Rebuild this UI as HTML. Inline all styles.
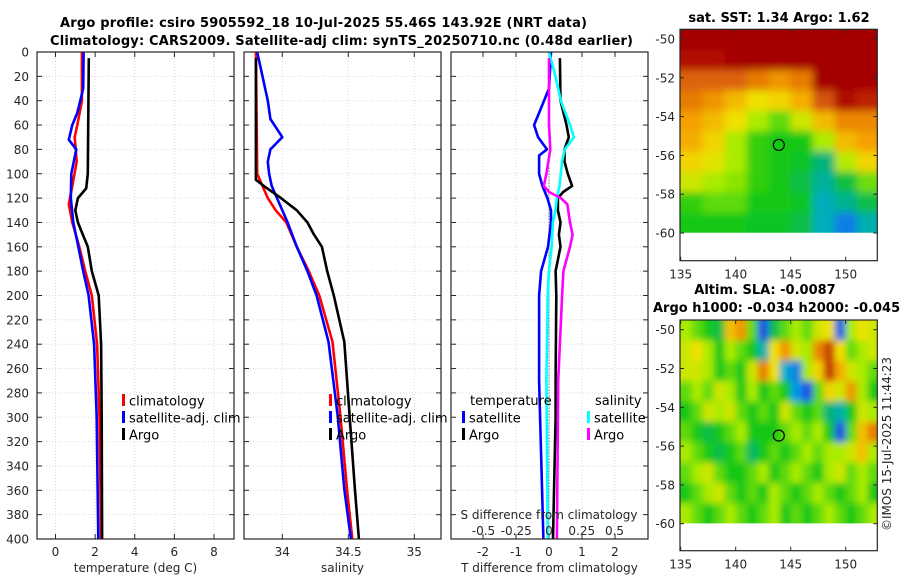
<!DOCTYPE html>
<html><head><meta charset="utf-8"><title>Argo profile</title>
<style>
html,body{margin:0;padding:0;background:#fff;}
svg{display:block;font-family:"DejaVu Sans","Liberation Sans",sans-serif;}
.tk{font-size:12px;fill:#262626;}
.lg{font-size:13px;fill:#000;}
.tt{font-size:13px;font-weight:bold;fill:#000;}
</style></head>
<body>
<svg id="fig" width="900" height="580" viewBox="0 0 900 580" xmlns="http://www.w3.org/2000/svg">
<defs>
<filter id="blurSST" x="-10%" y="-10%" width="120%" height="120%"><feGaussianBlur stdDeviation="4"/></filter>
<filter id="blurSLA" x="-10%" y="-10%" width="120%" height="120%"><feGaussianBlur stdDeviation="3.5"/></filter>
<clipPath id="clipSST"><rect x="680" y="29.3" width="197.3" height="203.4"/></clipPath>
<clipPath id="clipSLA"><rect x="680" y="320" width="197.3" height="203.4"/></clipPath>
</defs>
<text class="tt" x="60" y="27" textLength="527">Argo profile: csiro 5905592_18 10-Jul-2025 55.46S 143.92E (NRT data)</text>
<text class="tt" x="50" y="45" textLength="583">Climatology: CARS2009. Satellite-adj clim: synTS_20250710.nc (0.48d earlier)</text>
<text class="tt" x="779" y="22" text-anchor="middle">sat. SST: 1.34 Argo: 1.62</text>
<text class="tt" x="765" y="294" text-anchor="middle">Altim. SLA: -0.0087</text>
<text class="tt" x="653" y="312">Argo h1000: -0.034 h2000: -0.045</text>
<text class="tk" transform="translate(891,444) rotate(-90)" text-anchor="middle" font-size="13">©IMOS 15-Jul-2025 11:44:23</text>
</svg>
<script>
// ---------- data ----------
const depthTicks = [0,20,40,60,80,100,120,140,160,180,200,220,240,260,280,300,320,340,360,380,400];
const tempTicks = [0,2,4,6,8];
const salTicks = [34,34.5,35];
const salTickLabels = ["34","34.5","35"];
const tdiffTicks = [-2,-1,0,1,2];
const sdiffTicks = [-0.5,-0.25,0,0.25,0.5];
const sdiffTickLabels = ["-0.5","-0.25","0","0.25","0.5"];

const climTDepth = [0,40,60,70,90,110,125,140,160,180,200,240,300,400];
const climT = [1.33,1.33,1.1,0.97,1.07,0.85,0.67,0.85,1.2,1.5,1.83,2.1,2.22,2.3];
const satTDepth = [0,30,50,60,72,80,100,120,140,160,180,200,240,300,400];
const satT = [1.42,1.4,1.1,0.85,0.67,1.05,0.8,0.77,0.9,1.15,1.4,1.67,1.95,2.08,2.16];
const argoTDepth = [5,100,112,120,130,140,150,160,180,200,240,300,400];
const argoT = [1.68,1.63,1.55,1.13,1.0,1.13,1.38,1.63,1.83,2.18,2.3,2.33,2.35];

const climSDepth = [0,100,110,120,130,140,160,180,200,238,299,359,400];
const climS = [33.8,33.81,33.85,33.89,33.95,34.03,34.11,34.2,34.28,34.38,34.44,34.49,34.53];
const satSDepth = [0,20,40,55,70,80,90,100,110,120,140,160,180,200,238,299,359,400];
const satS = [33.81,33.85,33.89,33.91,34.0,33.91,33.89,33.9,33.92,33.96,34.04,34.11,34.19,34.26,34.35,34.42,34.47,34.52];
const argoSDepth = [5,105,110,120,130,140,150,160,180,200,238,299,359,400];
const argoS = [33.8,33.8,33.86,33.99,34.11,34.19,34.24,34.3,34.34,34.39,34.47,34.51,34.55,34.58];

const argoDTDepth = [5,40,60,70,80,90,100,110,115,120,130,140,150,160,180,200,270,300,400];
const argoDT = [0.33,0.35,0.53,0.6,0.47,0.47,0.57,0.7,0.43,0.27,0.27,0.35,0.3,0.35,0.2,0.22,0.2,0.2,0.12];
const satDTDepth = [0,30,50,60,70,80,85,100,110,120,130,140,160,180,200,270,400];
const satDT = [0.06,0.0,-0.3,-0.45,-0.33,-0.06,-0.3,-0.3,-0.2,-0.05,0.06,0.06,-0.03,-0.24,-0.3,-0.3,-0.17];
const satDSDepth = [0,20,40,60,70,80,90,100,110,120,130,140,160,180,200,270,400];
const satDS = [0,0.05,0.09,0.16,0.19,0.12,0.1,0.09,0.08,0.06,0.05,0.03,0.02,0,-0.01,-0.02,-0.01];
const argoDSDepth = [5,60,80,100,110,115,120,125,140,150,160,180,200,270,400];
const argoDS = [0,0,0.01,-0.02,-0.04,0.0,0.09,0.14,0.16,0.18,0.16,0.11,0.1,0.07,0.06];

const lonTicks = [135,140,145,150];
const latTicks = [-50,-52,-54,-56,-58,-60];
const argoLon = 143.92, argoLat = -55.46;
// SST grid: 10 rows (lat -49.5..-60), 9 cols (2 deg lon)
const sstGrid = [
[1,1,1,1,1,1,1,1,1],
[0.92,0.92,1,1,1,1,1,1,1],
[0.8,0.8,0.8,0.76,0.72,0.76,1,1,1],
[0.76,0.72,0.66,0.6,0.62,0.68,0.82,0.95,0.88],
[0.7,0.66,0.6,0.5,0.45,0.55,0.66,0.74,0.74],
[0.68,0.62,0.5,0.42,0.4,0.4,0.5,0.66,0.7],
[0.62,0.58,0.5,0.42,0.4,0.38,0.3,0.52,0.62],
[0.55,0.5,0.48,0.42,0.4,0.35,0.27,0.36,0.46],
[0.42,0.45,0.45,0.4,0.4,0.38,0.24,0.28,0.35],
[0.4,0.4,0.4,0.38,0.38,0.35,0.24,0.15,0.25]];
// SLA grid: 10 rows, 18 cols (1 deg lon)
const slaGrid = [
[0.5,0.45,0.4,0.35,0.65,0.72,0.45,0.1,0.35,0.45,0.5,0.45,0.55,0.6,0.12,0.5,0.6,0.55],
[0.55,0.6,0.5,0.4,0.5,0.45,0.4,0.25,0.6,0.72,0.55,0.5,0.74,0.85,0.6,0.45,0.5,0.55],
[0.55,0.55,0.5,0.4,0.45,0.4,0.55,0.76,0.6,0.22,0.15,0.5,0.62,0.86,0.68,0.55,0.5,0.45],
[0.45,0.5,0.45,0.55,0.5,0.4,0.5,0.4,0.45,0.4,0.18,0.1,0.45,0.62,0.55,0.72,0.5,0.4],
[0.4,0.45,0.55,0.5,0.55,0.45,0.4,0.45,0.4,0.55,0.45,0.4,0.45,0.3,0.25,0.4,0.55,0.5],
[0.45,0.4,0.35,0.4,0.45,0.5,0.4,0.4,0.4,0.45,0.5,0.45,0.5,0.4,0.1,0.45,0.65,0.76],
[0.5,0.45,0.4,0.35,0.4,0.45,0.32,0.4,0.45,0.4,0.45,0.5,0.45,0.5,0.5,0.55,0.65,0.5],
[0.45,0.5,0.55,0.45,0.4,0.4,0.45,0.5,0.4,0.45,0.5,0.45,0.4,0.5,0.55,0.45,0.5,0.45],
[0.4,0.45,0.5,0.55,0.45,0.4,0.45,0.4,0.5,0.45,0.4,0.45,0.5,0.45,0.4,0.45,0.5,0.4],
[0.5,0.45,0.4,0.45,0.5,0.45,0.4,0.45,0.5,0.4,0.45,0.4,0.45,0.5,0.45,0.4,0.45,0.5]];

// ---------- helpers ----------
const NS = "http://www.w3.org/2000/svg";
const svg = document.getElementById("fig");
function mk(tag, attrs, parent){
  const e = document.createElementNS(NS, tag);
  for (const k in attrs) e.setAttribute(k, attrs[k]);
  (parent||svg).appendChild(e);
  return e;
}
const Y0 = 52, Y1 = 539;
function yD(d){ return Y0 + d*(Y1-Y0)/400; }
function linScale(v0,p0,v1,p1){ return v => p0 + (v-v0)*(p1-p0)/(v1-v0); }

const panels = [
 {name:"temperature-panel", x0:37, x1:234, sx:linScale(0,55.5,8,214), ticks:tempTicks, labels:tempTicks.map(String), xlabel:"temperature (deg C)", showY:true},
 {name:"salinity-panel", x0:244, x1:441, sx:linScale(34,282.3,35,414.3), ticks:salTicks, labels:salTickLabels, xlabel:"salinity", showY:false},
 {name:"difference-panel", x0:451, x1:648, sx:linScale(0,549,1,582), ticks:tdiffTicks, labels:tdiffTicks.map(String), xlabel:"T difference from climatology", showY:false}
];

panels.forEach(p=>{
  const g = mk("g",{});
  
  
  p.ticks.forEach(t=>{
    const l = mk("line",{x1:p.sx(t),x2:p.sx(t),y1:Y0,y2:Y1,stroke:"#d2d8f0","stroke-width":1,"stroke-dasharray":"1,2"},g);
    
    
  });
  depthTicks.forEach(d=>{
    const l = mk("line",{x1:p.x0,x2:p.x1,y1:yD(d),y2:yD(d),stroke:"#d2d8f0","stroke-width":1,"stroke-dasharray":"1,2"},g);
    
    
  });
  depthTicks.forEach(d=>{
    const a = mk("line",{x1:p.x0,x2:p.x0+5,y1:yD(d),y2:yD(d),stroke:"#262626"},g);
    
    
    const b = mk("line",{x1:p.x1-5,x2:p.x1,y1:yD(d),y2:yD(d),stroke:"#262626"},g);
    
    
    if (p.showY){
      const t = mk("text",{x:p.x0-8,y:yD(d)+4.5,"text-anchor":"end",class:"tk"},g);
      t.textContent = String(d);
      
      
    }
  });
  p.ticks.forEach((v,i)=>{
    const x = p.sx(v);
    const a = mk("line",{x1:x,x2:x,y1:Y0,y2:Y0+5,stroke:"#262626"},g);
    
    
    const b = mk("line",{x1:x,x2:x,y1:Y1-5,y2:Y1,stroke:"#262626"},g);
    
    
    const t = mk("text",{x:x,y:556,"text-anchor":"middle",class:"tk"},g);
    t.textContent = p.labels[i];
    
    
  });
  const xl = mk("text",{x:(p.x0+p.x1)/2,y:572,"text-anchor":"middle",class:"tk","font-size":"13"},g);
  xl.textContent = p.xlabel;
  
  
  p.g = g;
});

function drawLine(p, depths, vals, sx, color, name, w){
  const pts = depths.map((d,i)=> sx(vals[i]).toFixed(1)+","+yD(d).toFixed(1)).join(" ");
  const pl = mk("polyline",{points:pts,fill:"none",stroke:color,"stroke-width":w||2.6,"stroke-linejoin":"round"},p.g);
  
  
}
drawLine(panels[0], climTDepth, climT, panels[0].sx, "#ff0000", "climatology-temperature-line");
drawLine(panels[0], satTDepth, satT, panels[0].sx, "#0000ff", "satellite-temperature-line");
drawLine(panels[0], argoTDepth, argoT, panels[0].sx, "#000000", "argo-temperature-line");
drawLine(panels[1], climSDepth, climS, panels[1].sx, "#ff0000", "climatology-salinity-line");
drawLine(panels[1], satSDepth, satS, panels[1].sx, "#0000ff", "satellite-salinity-line");
drawLine(panels[1], argoSDepth, argoS, panels[1].sx, "#000000", "argo-salinity-line");
const sS = linScale(0,549,0.5,614.5);
const zl = mk("line",{x1:panels[2].sx(0),x2:panels[2].sx(0),y1:yD(95),y2:Y1,stroke:"#333","stroke-width":1,"stroke-dasharray":"1,2"},panels[2].g);


drawLine(panels[2], satDTDepth, satDT, panels[2].sx, "#0000ff", "satellite-temperature-difference-line");
drawLine(panels[2], argoDTDepth, argoDT, panels[2].sx, "#000000", "argo-temperature-difference-line");
drawLine(panels[2], satDSDepth, satDS, sS, "#00ffff", "satellite-salinity-difference-line");
drawLine(panels[2], argoDSDepth, argoDS, sS, "#ff00ff", "argo-salinity-difference-line");
const st = mk("text",{x:549,y:519,"text-anchor":"middle",class:"tk","font-size":"13"},panels[2].g);
st.textContent = "S difference from climatology";


sdiffTicks.forEach((v,i)=>{
  const t = mk("text",{x:sS(v),y:535,"text-anchor":"middle",class:"tk"},panels[2].g);
  t.textContent = sdiffTickLabels[i];
  
  
});
panels.forEach(p=>{
  const r = mk("rect",{x:p.x0,y:Y0,width:p.x1-p.x0,height:Y1-Y0,fill:"none",stroke:"#262626","stroke-width":1.2},p.g);
  
  
});

function legendEntry(g, x, y, color, label){
  const m = mk("rect",{x:x,y:y-7,width:3,height:12,fill:color},g);
  
  
  const t = mk("text",{x:x+7,y:y+4.5,class:"lg"},g);
  t.textContent = label;
  
  
}
[[panels[0],122],[panels[1],329]].forEach(([p,x])=>{
  const lg = mk("g",{},p.g);
  
  
  legendEntry(lg, x, 401, "#ff0000", "climatology");
  legendEntry(lg, x, 418, "#0000ff", "satellite-adj. clim");
  legendEntry(lg, x, 435, "#000000", "Argo");
});
const lg3 = mk("g",{},panels[2].g);


const lt1 = mk("text",{x:470,y:405,class:"lg"},lg3);
lt1.textContent = "temperature";


const lt2 = mk("text",{x:595,y:405,class:"lg"},lg3);
lt2.textContent = "salinity";


legendEntry(lg3, 462, 418, "#0000ff", "satellite");
legendEntry(lg3, 462, 435, "#000000", "Argo");
legendEntry(lg3, 587, 418, "#00ffff", "satellite");
legendEntry(lg3, 587, 435, "#ff00ff", "Argo");

// ---------- maps ----------
const cstops = [[0.1,[30,80,230]],[0.2,[0,170,230]],[0.3,[0,180,120]],[0.4,[20,200,20]],[0.5,[170,235,0]],[0.6,[240,225,0]],[0.7,[245,160,0]],[0.8,[220,100,10]],[0.9,[180,20,0]],[1.0,[165,0,0]]];
function cmap(v){
  if (v<=cstops[0][0]) return "rgb("+cstops[0][1].join(",")+")";
  for (let i=1;i<cstops.length;i++){
    if (v<=cstops[i][0]){
      const f=(v-cstops[i-1][0])/(cstops[i][0]-cstops[i-1][0]);
      const c=cstops[i-1][1].map((a,k)=>Math.round(a+(cstops[i][1][k]-a)*f));
      return "rgb("+c.join(",")+")";
    }
  }
  return "rgb("+cstops[cstops.length-1][1].join(",")+")";
}
function drawMap(name, top, bottom, grid, clipId, filtId){
  const g = mk("g",{});
  
  
  const x0=680, x1=877.3;
  const lonX = lon => 680.7 + (lon-135)*11;
  const latY = lat => top + (-49.5-lat)*19.4;
  const rows = grid.length, cols = grid[0].length;
  const dLon = 18/cols, dLat = 10.5/rows;
  const clipG = mk("g",{"clip-path":"url(#"+clipId+")"},g);
  
  
  const blurG = mk("g",{filter:"url(#"+filtId+")"},clipG);
  grid.forEach((row,r)=>row.forEach((v,c)=>{
    let xa = lonX(135+c*dLon), xb = lonX(135+(c+1)*dLon);
    let ya = latY(-49.5-r*dLat), yb = latY(-49.5-(r+1)*dLat);
    if (c===0) xa -= 15; if (c===cols-1) xb += 15;
    if (r===0) ya -= 15; if (r===rows-1) yb += 15;
    const cell = mk("rect",{x:xa.toFixed(2),y:ya.toFixed(2),width:(xb-xa+0.5).toFixed(2),height:(yb-ya+0.5).toFixed(2),fill:cmap(v)},blurG);
    
    
  }));
  const box = mk("rect",{x:x0,y:top,width:x1-x0,height:bottom-top,fill:"none",stroke:"#262626","stroke-width":1.2},g);
  
  
  latTicks.forEach(lat=>{
    const y = latY(lat);
    const a = mk("line",{x1:x0,x2:x0+4,y1:y,y2:y,stroke:"#262626"},g);
    
    
    const b = mk("line",{x1:x1-4,x2:x1,y1:y,y2:y,stroke:"#262626"},g);
    
    
    const t = mk("text",{x:675,y:y+4.5,"text-anchor":"end",class:"tk","font-size":"13"},g);
    t.textContent = String(lat);
    
    
  });
  lonTicks.forEach(lon=>{
    const x = lonX(lon);
    const a = mk("line",{x1:x,x2:x,y1:top,y2:top+4,stroke:"#262626"},g);
    
    
    const b = mk("line",{x1:x,x2:x,y1:bottom-4,y2:bottom,stroke:"#262626"},g);
    
    
    const t = mk("text",{x:x,y:bottom+18,"text-anchor":"middle",class:"tk","font-size":"13"},g);
    t.textContent = String(lon);
    
    
  });
  const c = mk("circle",{cx:lonX(argoLon),cy:latY(argoLat),r:5.5,fill:"none",stroke:"#000","stroke-width":1.2},g);
  
  
}
drawMap("sst-map", 29.3, 260.7, sstGrid, "clipSST", "blurSST");
drawMap("sla-map", 320, 550.7, slaGrid, "clipSLA", "blurSLA");
</script>
</body></html>
